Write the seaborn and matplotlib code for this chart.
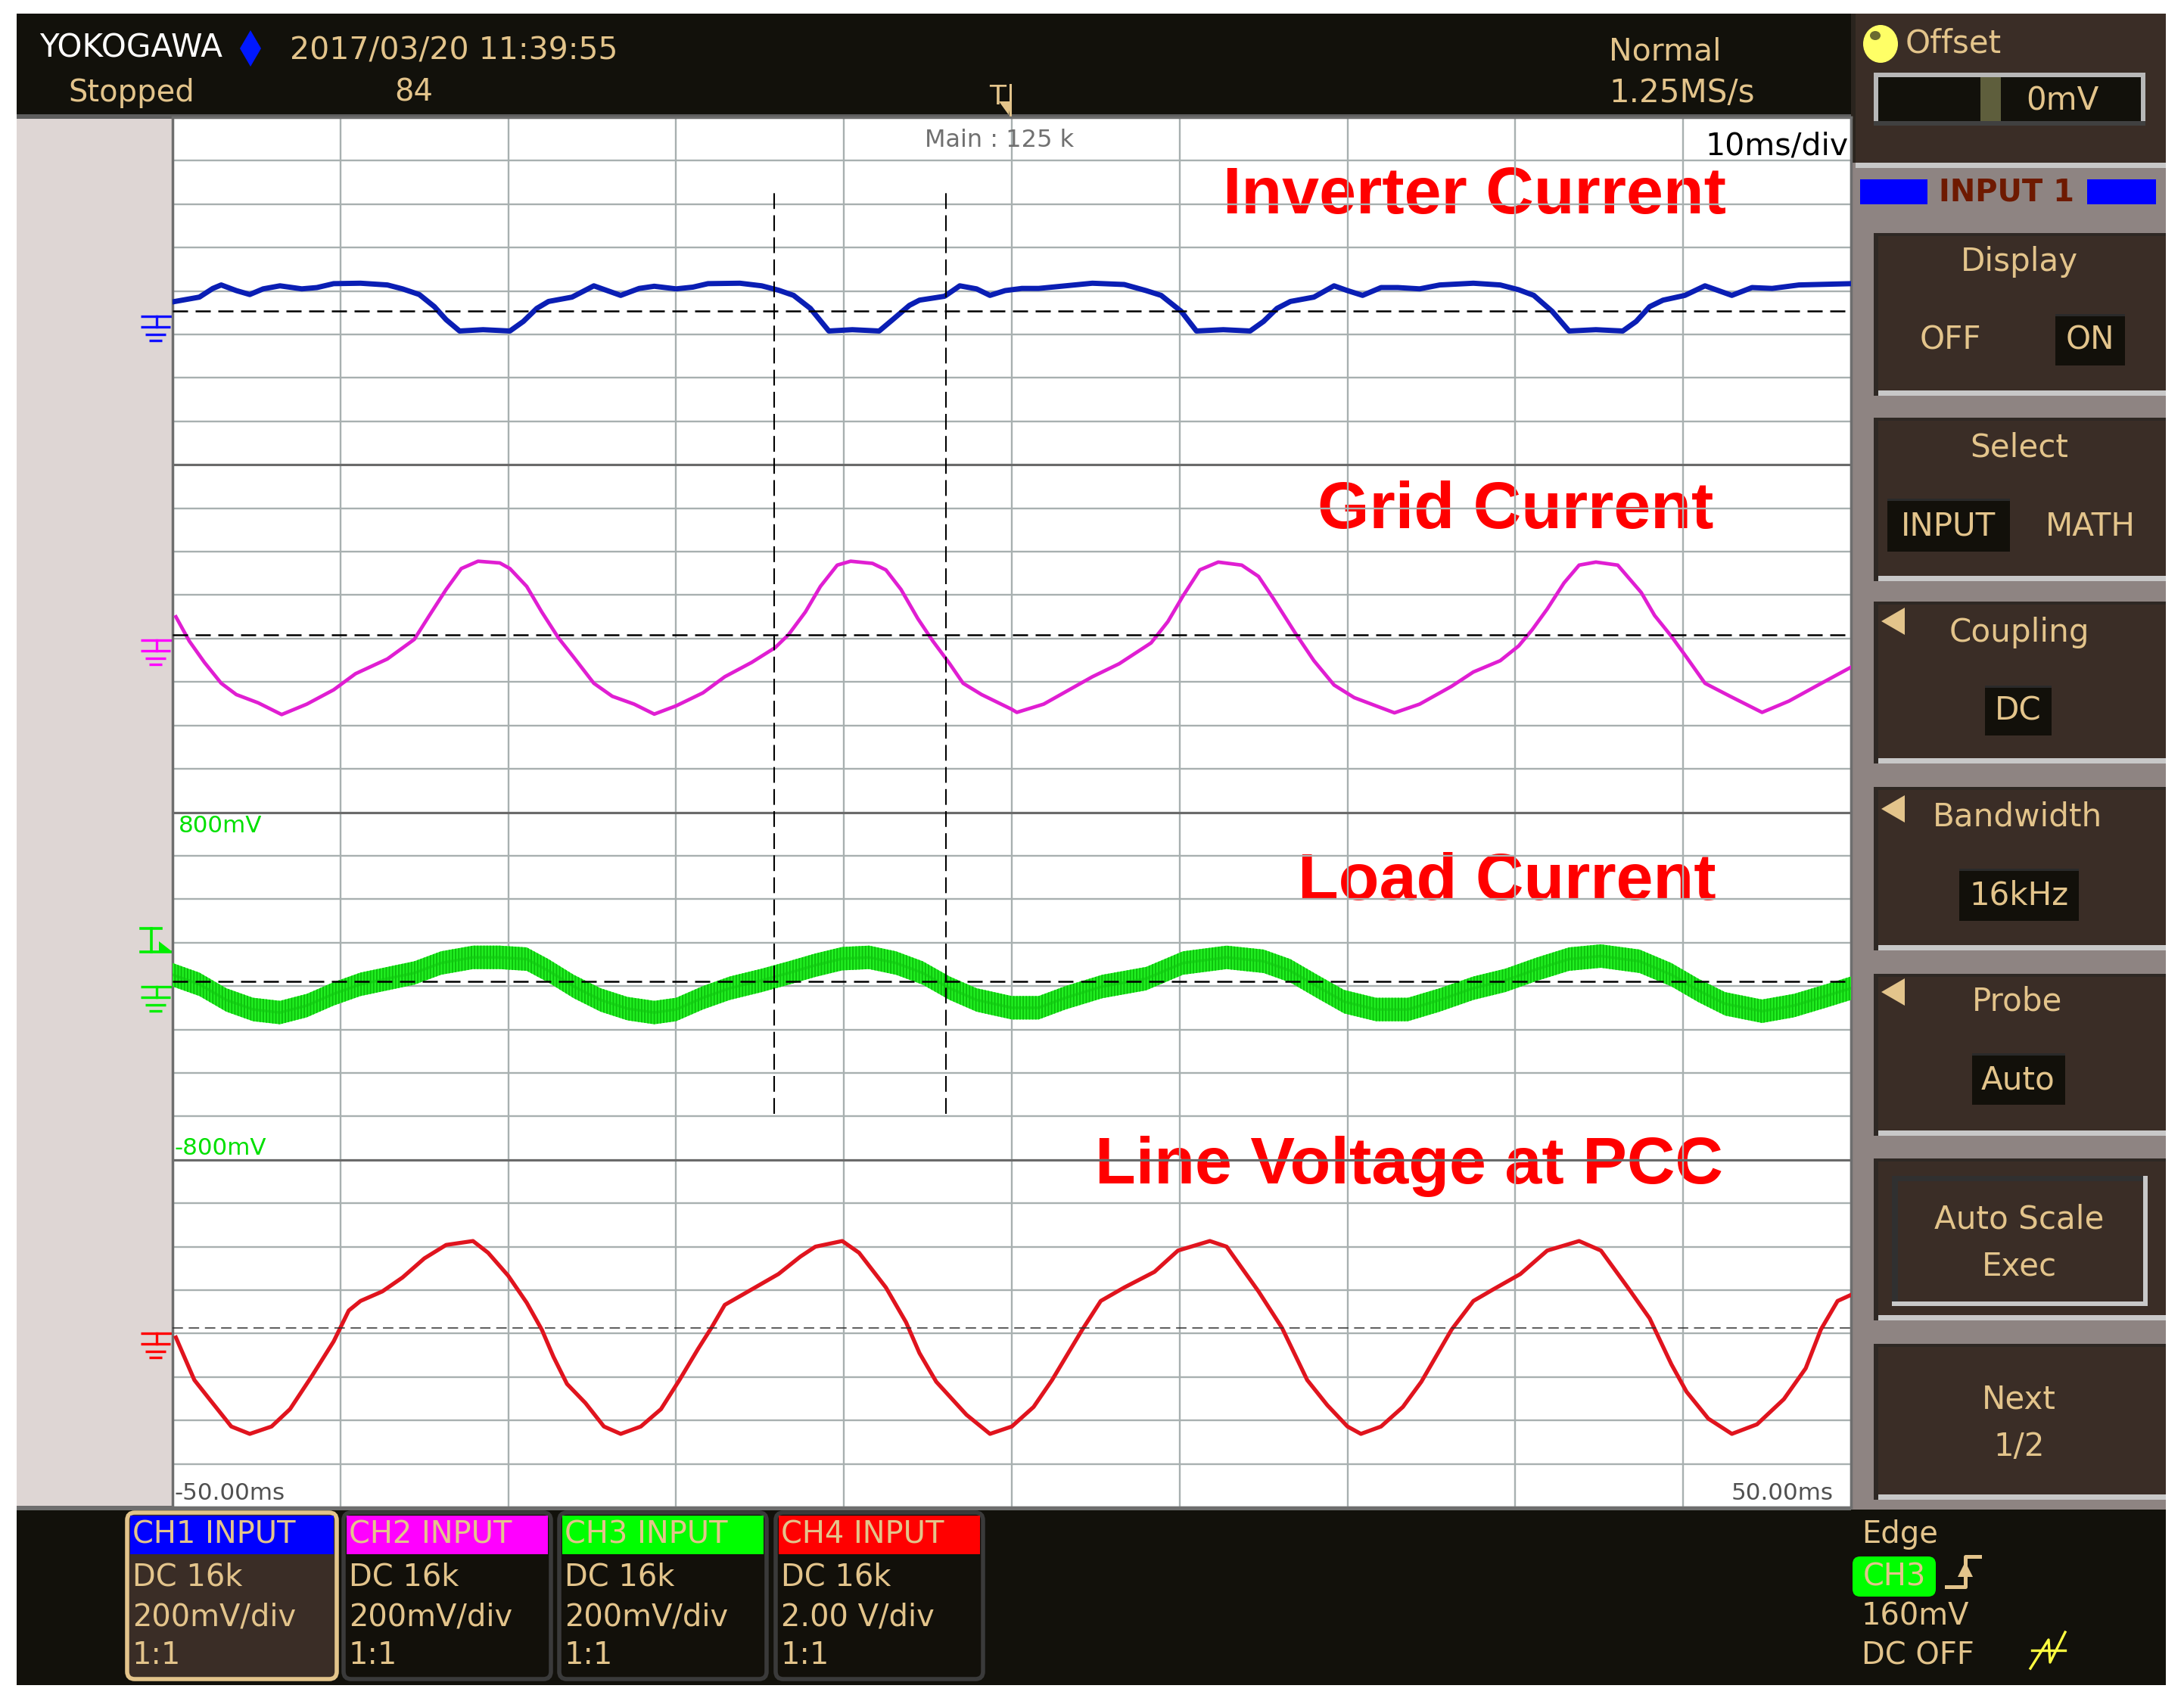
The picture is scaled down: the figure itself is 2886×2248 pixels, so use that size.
import numpy as np
import matplotlib
matplotlib.use("Agg")
import matplotlib.pyplot as plt
from matplotlib.patches import Rectangle, Ellipse, Polygon, FancyBboxPatch
import seaborn as sns

W, H = 2886, 2248

# ---- waveform data (time in ms, 10 ms/div) ----
# CH1 inverter current, mV (200 mV/div)
ch1_t = [-50.0, -48.4, -47.6, -47.1, -46.2, -45.4, -44.6, -43.6, -42.3, -41.4, -40.4, -38.8,
         -37.2, -36.3, -35.3, -34.4, -33.7, -32.9, -31.5, -29.9, -29.1, -28.3, -27.6, -26.2,
         -24.9, -24.1, -23.3, -22.2, -21.3, -20.0, -19.0, -18.1, -16.2, -14.9, -13.9, -13.0,
         -12.0, -10.9, -9.5, -7.9, -7.1, -6.1, -5.5, -4.0, -3.1, -2.1, -1.3, -0.4, 0.6, 1.6,
         3.2, 4.8, 6.7, 8.0, 8.9, 10.1, 11.0, 12.6, 14.2, 15.0, 15.8, 16.6, 18.0, 19.2, 20.0,
         20.9, 22.0, 23.0, 24.3, 25.5, 27.5, 29.1, 30.2, 31.1, 32.2, 33.2, 34.8, 36.4, 37.2,
         38.0, 38.8, 40.1, 41.3, 42.1, 42.9, 44.1, 45.3, 46.9, 50.0]
ch1_mv = [42, 64, 104, 120, 94, 76, 102, 116, 102, 108, 126, 128,
          120, 102, 76, 20, -40, -92, -86, -92, -48, 12, 44, 64,
          116, 94, 72, 104, 114, 102, 110, 126, 128, 116, 96, 72,
          12, -92, -86, -92, -40, 26, 50, 68, 116, 102, 72, 94, 104, 104,
          116, 128, 122, 94, 72, -2, -92, -86, -92, -48, 12, 44, 64, 116, 94,
          72, 108, 108, 102, 120, 128, 120, 98, 72, -2, -92, -86, -92, -48,
          20, 50, 72, 116, 94, 72, 108, 104, 120, 126]

# CH2 grid current, mV (200 mV/div)
ch2_t = [-49.8, -49.0, -48.1, -47.1, -46.2, -44.9, -43.5, -42.0, -40.4, -39.1, -37.2, -35.6,
         -34.7, -33.7, -32.8, -31.8, -30.5, -29.9, -28.9, -28.0, -27.0, -26.1, -24.9, -23.8,
         -22.5, -21.3, -20.0, -18.4, -17.1, -15.5, -14.1, -13.3, -12.3, -11.4, -10.4, -9.6,
         -8.3, -7.5, -6.6, -5.6, -4.7, -3.7, -2.9, -1.8, 0.0, 0.3, 1.9, 4.8, 6.4, 8.3, 9.3,
         10.2, 11.2, 12.3, 13.7, 14.7, 15.6, 16.9, 18.0, 19.2, 20.4, 21.7, 22.8, 24.3, 26.2,
         27.5, 29.1, 30.2, 31.0, 31.9, 32.9, 33.8, 34.8, 36.1, 37.5, 38.3, 39.3, 40.2, 41.3,
         42.8, 44.7, 46.3, 47.9, 50.0]
ch2_mv = [84, -28, -126, -222, -274, -312, -366, -318, -252, -178, -110, -20,
          90, 210, 306, 340, 332, 306, 224, 106, -14, -102, -222, -282,
          -318, -364, -326, -266, -192, -126, -58, 2, 106, 224, 322, 340,
          330, 300, 210, 76, -28, -132, -222, -274, -342, -356, -318, -192, -132, -36, 62,
          180, 300, 336, 322, 270, 166, 8, -118, -230, -288, -326, -358, -318, -236,
          -170, -118, -50, 24, 120, 240, 322, 336, 322, 196, 90, -6, -102, -222,
          -282, -356, -304, -236, -148]

# CH3 load current (centre of the noisy trace), mV (200 mV/div)
ch3_t = [-50.0, -48.4, -46.8, -45.2, -43.6, -42.0, -40.4, -38.8, -37.2, -35.6, -34.0, -32.1,
         -30.5, -28.9, -27.6, -26.1, -24.5, -22.9, -21.3, -20.0, -18.4, -16.8, -14.9, -13.3,
         -11.7, -10.1, -8.5, -6.9, -5.3, -3.7, -2.1, 0.0, 1.6, 3.2, 5.4, 8.0, 10.2, 12.8,
         15.0, 16.6, 18.2, 19.8, 21.7, 23.6, 25.5, 27.5, 29.4, 31.3, 33.2, 35.1, 37.4, 39.3,
         40.9, 42.5, 44.7, 46.6, 48.5, 50.0]
ch3_mv = [32, -12, -84, -128, -142, -110, -56, -12, 14, 40, 86, 112,
          112, 104, 50, -22, -84, -124, -142, -128, -74, -30, 6, 40,
          76, 106, 112, 86, 40, -30, -84, -120, -120, -74, -22, 14, 86, 112,
          94, 50, -22, -92, -128, -128, -84, -30, 6, 58, 104, 118, 94, 32,
          -40, -102, -136, -110, -66, -30]

# CH4 line voltage at PCC, V (2 V/div)
ch4_t = [-49.8, -48.7, -47.8, -46.5, -45.4, -44.1, -43.0, -41.7, -40.4, -39.5, -38.8, -37.5,
         -36.3, -35.0, -33.7, -32.1, -31.2, -30.0, -28.9, -28.0, -27.3, -26.5, -25.4, -24.3,
         -23.3, -22.1, -20.9, -19.8, -18.7, -17.9, -17.1, -15.7, -13.9, -12.6, -11.7, -10.1,
         -9.1, -7.5, -6.3, -5.5, -4.5, -2.7, -1.3, 0.0, 1.3, 2.4, 4.2, 5.3, 6.7, 8.5, 9.9,
         11.8, 12.8, 14.7, 16.1, 17.6, 18.8, 20.0, 20.8, 22.0, 23.3, 24.4, 26.2, 27.5, 28.7,
         30.3, 31.9, 33.8, 35.1, 36.7, 38.0, 39.3, 40.2, 41.5, 42.9, 44.4, 46.0, 47.3, 48.2,
         49.2, 50.0]
ch4_v = [-0.44, -2.40, -3.28, -4.54, -4.88, -4.54, -3.74, -2.22, -0.62, 0.80, 1.24, 1.68,
         2.32, 3.20, 3.82, 4.00, 3.46, 2.40, 1.16, -0.08, -1.34, -2.58, -3.46, -4.54,
         -4.88, -4.54, -3.74, -2.40, -0.98, 0.00, 1.06, 1.68, 2.48, 3.28, 3.74, 4.00,
         3.46, 1.86, 0.26, -1.16, -2.48, -4.00, -4.88, -4.54, -3.64, -2.40, -0.08, 1.24, 1.86, 2.58, 3.56,
         4.00, 3.74, 1.68, 0.00, -2.40, -3.56, -4.54, -4.88, -4.54, -3.64, -2.48, -0.08, 1.24, 1.78,
         2.48, 3.56, 4.00, 3.56, 1.86, 0.44, -1.68, -2.94, -4.18, -4.88, -4.44, -3.28, -1.86, -0.08,
         1.24, 1.52]

# channel setup: ground level (div from bottom of screen) and scale per div
ground = {"CH1": 27.54, "CH2": 20.08, "CH3": 12.10, "CH4": 4.13}
per_div = {"CH1": 200, "CH2": 200, "CH3": 200, "CH4": 2.0}
cursor_t = [-14.14, -3.93]
channel_info = [
    ("CH1 INPUT", "#0000FF", "DC 16k", "200mV/div", "1:1"),
    ("CH2 INPUT", "#FF00FF", "DC 16k", "200mV/div", "1:1"),
    ("CH3 INPUT", "#00FF00", "DC 16k", "200mV/div", "1:1"),
    ("CH4 INPUT", "#FF0000", "DC 16k", "2.00 V/div", "1:1"),
]

DARK = "#12110B"
BROWN = "#3A2D26"
PANEL = "#8E8482"
TAN = "#E3C48B"
STRIP = "#DED6D4"
LIGHT = "#C8C8C8"
UI_FONT = "DejaVu Sans"

fig = plt.figure(figsize=(W / 100, H / 100), dpi=100)
fig.patch.set_facecolor("white")
bg = fig.add_axes([0, 0, 1, 1])
bg.set_xlim(0, W)
bg.set_ylim(H, 0)
bg.axis("off")


def rect(x0, y0, x1, y1, color, z=1):
    bg.add_patch(Rectangle((x0, y0), x1 - x0, y1 - y0, facecolor=color, edgecolor="none", zorder=z))


def txt(x, y, s, px, color=TAN, ha="left", va="center", weight="normal",
        family=UI_FONT, target=None, z=5):
    (target or bg).text(x, y, s, fontsize=px * 0.72, color=color, ha=ha, va=va,
                        fontweight=weight, family=family, transform=bg.transData, zorder=z)


# ---- screen chrome ----
rect(22, 18, 2862, 2227, DARK)
rect(22, 155, 228, 1992, STRIP)
rect(22, 151, 2446, 157, "#5E5E5E")
rect(22, 1990, 2446, 1996, "#6E6E6E")
rect(2446, 18, 2862, 1995, PANEL)
rect(2446, 18, 2862, 215, BROWN)
rect(2446, 18, 2452, 215, "#2A241E")
rect(2452, 215, 2862, 222, LIGHT)

# top status bar
txt(52, 64, "YOKOGAWA", 42, color="white")
bg.add_patch(Polygon([(331, 40), (345, 64), (331, 88), (317, 64)], closed=True, facecolor="#0018FF", zorder=2))
txt(383, 68, "2017/03/20 11:39:55", 41)
txt(90, 123, "Stopped", 40)
txt(521, 123, "84", 40)
txt(2126, 68, "Normal", 41)
txt(2126, 123, "1.25MS/s", 42)
txt(1318, 128, "T", 36, ha="center")
bg.plot([1335, 1335], [112, 152], color=TAN, lw=2.2, zorder=3)
bg.add_patch(Polygon([(1320, 134), (1336, 134), (1333, 152)], closed=True, facecolor=TAN, zorder=3))

# offset block
bg.add_patch(Ellipse((2485, 58), 46, 50, facecolor="#FFFF66", edgecolor="none", zorder=2))
bg.add_patch(Ellipse((2478, 47), 14, 12, facecolor="#6A6A30", edgecolor="none", zorder=3))
txt(2518, 58, "Offset", 42)
rect(2476, 96, 2835, 166, "#B8B8B8")
rect(2482, 102, 2829, 161, DARK, z=2)
rect(2617, 102, 2644, 161, "#5E5E3C", z=3)
rect(2476, 160, 2835, 166, "#404040", z=3)
txt(2725, 133, "0mV", 42, ha="center")

# INPUT 1 header
rect(2458, 237, 2547, 270, "#0000FF")
rect(2758, 237, 2849, 270, "#0000FF")
txt(2652, 254, "INPUT 1", 40, color="#6E1A00", ha="center", weight="bold")

# menu boxes
boxes = [(308, 523), (552, 768), (795, 1009), (1040, 1256), (1287, 1501), (1531, 1745), (1776, 1982)]
for y0, y1 in boxes:
    rect(2476, y0, 2862, y1, BROWN)
    rect(2476, y0, 2862, y0 + 4, "#2E2824", z=2)
    rect(2476, y0, 2482, y1, "#2E2824", z=2)
    rect(2482, y1 - 7, 2862, y1, LIGHT, z=2)


def dark_box(x0, y0, x1, y1):
    rect(x0, y0, x1, y1, "#12100A", z=3)
    rect(x0, y0, x1, y0 + 3, "#2A2A2A", z=3)


def tri(yc):
    bg.add_patch(Polygon([(2486, yc), (2517, yc - 18), (2517, yc + 18)], closed=True,
                         facecolor=TAN, zorder=4))


PW = "medium"
txt(2668, 346, "Display", 42, ha="center", weight=PW)
txt(2577, 449, "OFF", 42, ha="center", weight=PW)
dark_box(2716, 415, 2808, 483)
txt(2762, 449, "ON", 42, ha="center", weight=PW)
txt(2668, 591, "Select", 42, ha="center", weight=PW)
dark_box(2494, 659, 2656, 729)
txt(2575, 696, "INPUT", 42, ha="center", weight=PW)
txt(2762, 696, "MATH", 42, ha="center", weight=PW)
tri(821)
txt(2668, 836, "Coupling", 42, ha="center", weight=PW)
dark_box(2623, 906, 2711, 972)
txt(2667, 939, "DC", 42, ha="center", weight=PW)
tri(1069)
txt(2666, 1079, "Bandwidth", 42, ha="center", weight=PW)
dark_box(2589, 1148, 2747, 1217)
txt(2668, 1183, "16kHz", 42, ha="center", weight=PW)
tri(1311)
txt(2666, 1323, "Probe", 42, ha="center", weight=PW)
dark_box(2606, 1392, 2729, 1460)
txt(2667, 1427, "Auto", 42, ha="center", weight=PW)
rect(2500, 1554, 2838, 1726, LIGHT, z=3)
rect(2500, 1554, 2832, 1720, "#303030", z=3)
rect(2508, 1561, 2832, 1720, BROWN, z=3)
txt(2668, 1611, "Auto Scale", 42, ha="center", weight=PW)
txt(2668, 1673, "Exec", 42, ha="center", weight=PW)
txt(2668, 1849, "Next", 42, ha="center", weight=PW)
txt(2668, 1912, "1/2", 42, ha="center", weight=PW)

# channel info boxes at the bottom
box_x = [(168, 445), (454, 728), (739, 1013), (1025, 1299)]
for i, ((x0, x1), (name, col, l1, l2, l3)) in enumerate(zip(box_x, channel_info)):
    edge = TAN if i == 0 else "#3A3A3A"
    body = BROWN if i == 0 else "#12100A"
    bg.add_patch(FancyBboxPatch((x0, 1999), x1 - x0, 220, boxstyle="round,pad=0,rounding_size=10",
                                facecolor=body, edgecolor=edge, linewidth=4, zorder=2))
    rect(x0 + 4, 2003, x1 - 4, 2054, col, z=3)
    txt(x0 + 7, 2028, name, 40, z=4)
    txt(x0 + 7, 2085, l1, 40)
    txt(x0 + 7, 2137, l2, 40)
    txt(x0 + 7, 2188, l3, 40)

# trigger info
txt(2460, 2028, "Edge", 40)
bg.add_patch(FancyBboxPatch((2448, 2057), 110, 53, boxstyle="round,pad=0,rounding_size=10",
                            facecolor="#00FF00", edgecolor="none", zorder=2))
txt(2503, 2084, "CH3", 40, ha="center", z=4)
bg.plot([2572, 2597, 2597, 2616], [2097, 2097, 2057, 2057], color=TAN, lw=3.6, zorder=3)
bg.add_patch(Polygon([(2587, 2084), (2607, 2084), (2597, 2064)], closed=True, facecolor=TAN, zorder=3))
txt(2460, 2137, "160mV", 40)
txt(2460, 2188, "DC OFF", 40)
bg.plot([2683, 2707, 2709, 2729], [2205, 2167, 2197, 2157], color="#FFFF40", lw=2.4, zorder=3)
bg.plot([2685, 2729], [2181, 2181], color="#FFFF40", lw=2.4, zorder=3)

# ground / trigger markers on the left strip
DIV_PX = (1992 - 155) / 32


def ground_mark(g, color):
    y0 = 1992 - g * DIV_PX + 7
    for xa, xb, dy in [(186, 228, 0), (186, 225, 14), (192, 219, 24), (197, 214, 32)]:
        bg.plot([xa, xb], [y0 + dy, y0 + dy], color=color, lw=2.4, solid_capstyle="butt", zorder=3)
    bg.plot([207, 207], [y0, y0 + 14], color=color, lw=2.4, zorder=3)


ground_mark(ground["CH1"], "#1010FF")
ground_mark(ground["CH2"], "#FF00FF")
ground_mark(ground["CH3"], "#00EE00")
ground_mark(ground["CH4"], "#FF0000")
bg.plot([186, 213], [1227, 1227], color="#00EE00", lw=2.6, zorder=3)
bg.plot([200, 200], [1227, 1258], color="#00EE00", lw=2.6, zorder=3)
bg.plot([186, 228], [1258, 1258], color="#00EE00", lw=2.6, zorder=3)
bg.add_patch(Polygon([(210, 1244), (228, 1258), (210, 1258)], closed=True, facecolor="#00EE00", zorder=3))

# ---- waveform screen ----
ax = fig.add_axes([228 / W, 1 - 1992 / H, (2446 - 228) / W, (1992 - 155) / H])
ax.set_facecolor("white")


def trace(t, vals, ch, color, lw):
    y = ground[ch] + np.asarray(vals, float) / per_div[ch]
    sns.lineplot(x=np.asarray(t, float), y=y, ax=ax, color=color, linewidth=lw,
                 estimator=None, sort=False, zorder=3)
    return y


trace(ch1_t, ch1_mv, "CH1", "#0A1EB4", 5.0)
trace(ch2_t, ch2_mv, "CH2", "#E01ED2", 3.4)
c3 = ground["CH3"] + np.asarray(ch3_mv, float) / per_div["CH3"]
plt.rcParams["hatch.linewidth"] = 1.4
ax.fill_between(ch3_t, c3 - 0.27, c3 + 0.27, facecolor="#22F022", edgecolor="#0CC00C",
                hatch="||||", linewidth=0, zorder=3)
sns.lineplot(x=np.asarray(ch3_t, float), y=c3, ax=ax, color="#10C810", linewidth=2.5,
             estimator=None, sort=False, zorder=3, alpha=0.6)
trace(ch4_t, ch4_v, "CH4", "#E0141E", 3.8)

for ch in ("CH1", "CH2", "CH3"):
    ax.axhline(ground[ch], color="black", lw=1.8, ls=(0, (8, 4)), zorder=3.5)
ax.axhline(ground["CH4"], color="#303030", lw=1.1, ls=(0, (9, 5)), zorder=3.5)
ax.vlines(cursor_t, 9.05, 30.37, colors="black", linestyles=(0, (10, 4)), linewidth=1.5, zorder=4)

ax.set_xlim(-50, 50)
ax.set_ylim(0, 32)
ax.set_xticks(range(-50, 51, 10))
ax.set_yticks(range(0, 33))
ax.grid(True, color="#A8B0B0", linewidth=1.7)
ax.set_axisbelow(True)
ax.tick_params(length=0, labelbottom=False, labelleft=False)
ax.set_xlabel("")
ax.set_ylabel("")
for yv in (8, 16, 24):
    ax.axhline(yv, color="#6A6A6A", lw=2.2, zorder=0.6)
for s in ax.spines.values():
    s.set_color("#6E6E6E")
    s.set_linewidth(2.5)

# screen annotations
txt(1321, 186, "Main : 125 k", 32, color="#707070", ha="center", target=ax)
txt(2443, 193, "10ms/div", 41, color="black", ha="right", target=ax)
txt(236, 1091, "800mV", 31, color="#00E000", target=ax)
txt(230, 1517, "-800mV", 31, color="#00E000", target=ax)
txt(230, 1974, "-50.00ms", 31, color="#505050", target=ax)
txt(2423, 1974, "50.00ms", 31, color="#505050", ha="right", target=ax)

RED_FONT = "Liberation Sans"
for s, xc, yb in [("Inverter Current", 1948, 282), ("Grid Current", 2003, 698),
                  ("Load Current", 1991, 1189), ("Line Voltage at PCC", 1862, 1564)]:
    txt(xc, yb, s, 88, color="#FF0000", ha="center", va="baseline", weight="bold",
        family=RED_FONT, target=ax, z=0.3)

fig.savefig("out.png", dpi=100)
